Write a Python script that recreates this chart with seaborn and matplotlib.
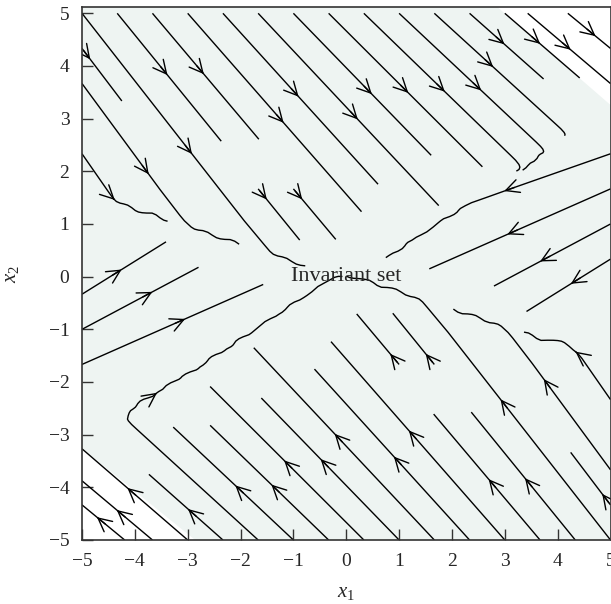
import numpy as np
import matplotlib
matplotlib.use("Agg")
import matplotlib.pyplot as plt
import seaborn as sns

# ---- data ----
# switching lines through the origin, x2 = slope * x1
switch_slopes = [0.65, -0.32]
# point the flow moves away from, per region (other two are the mirror image)
focus_upper = [-21.6, 26.3]
focus_left = [-12.3, -4.9]
# outline of the shaded invariant set
set_x = [-5, -5, 2.86, 5, 5, -2.86]
set_y = [-3.26, 5.12, 5.12, 3.26, -5, -5]
ticks = [-5, -4, -3, -2, -1, 0, 1, 2, 3, 4, 5]
grid_n = 61

sns.set_style("ticks")
plt.rcParams["font.family"] = ["Liberation Serif", "DejaVu Serif"]
plt.rcParams["mathtext.fontset"] = "custom"
plt.rcParams["mathtext.it"] = "Liberation Serif:italic"
plt.rcParams["mathtext.rm"] = "Liberation Serif"

# vector field: x' = x - p, p switches with the region
g = np.linspace(-5, 5, grid_n)
X1, X2 = np.meshgrid(g, g)
s1 = np.sign(X2 - switch_slopes[0] * X1)
s2 = np.sign(X2 - switch_slopes[1] * X1)
pu = np.array(focus_upper)
pl = np.array(focus_left)
c1 = (pu + pl) / 2
c2 = (pu - pl) / 2
U = X1 - (s1 * c1[0] + s2 * c2[0])
V = X2 - (s1 * c1[1] + s2 * c2[1])

fig = plt.figure(figsize=(6.11, 6.04), dpi=100)
ax = fig.add_axes([82 / 611, 64 / 604, 528.5 / 611, 533 / 604])

ax.fill(set_x, set_y, color="#eef4f2", lw=0, zorder=0)
ax.streamplot(X1, X2, U, V, color="black", linewidth=1.0, density=0.55,
              arrowstyle="->", arrowsize=2.4)
ax.text(0, 0, "Invariant set", ha="center", va="center", fontsize=16)

ax.set_xlim(-5, 5)
ax.set_ylim(-5, 5.12)
ax.set_xticks(ticks)
ax.set_yticks(ticks)
ax.tick_params(direction="in", length=8, width=1, labelsize=14, color="#333333", pad=9)
for sp in ax.spines.values():
    sp.set_color("#333333")
    sp.set_linewidth(1.2)
ax.set_xlabel("$x_1$", fontsize=15, labelpad=10)
ax.set_ylabel("$x_2$", fontsize=15, labelpad=20)

fig.savefig("out.png", dpi=100)
